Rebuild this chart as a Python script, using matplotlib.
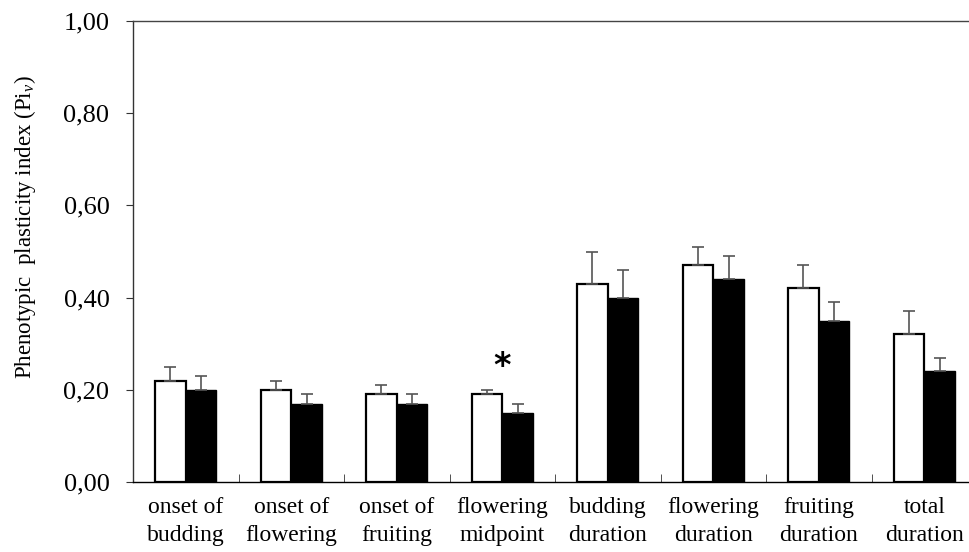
import matplotlib.pyplot as plt
import numpy as np

labels = ["onset of\nbudding", "onset of\nflowering", "onset of\nfruiting",
          "flowering\nmidpoint", "budding\nduration", "flowering\nduration",
          "fruiting\nduration", "total\nduration"]
white_vals = [0.22, 0.20, 0.19, 0.19, 0.43, 0.47, 0.42, 0.32]
white_err = [0.03, 0.02, 0.02, 0.01, 0.07, 0.04, 0.05, 0.05]
black_vals = [0.20, 0.17, 0.17, 0.15, 0.40, 0.44, 0.35, 0.24]
black_err = [0.03, 0.02, 0.02, 0.02, 0.06, 0.05, 0.04, 0.03]
yticks = [0.0, 0.2, 0.4, 0.6, 0.8, 1.0]
ytick_labels = ["0,00", "0,20", "0,40", "0,60", "0,80", "1,00"]

plt.rcParams['font.family'] = ['Liberation Serif', 'DejaVu Serif']
plt.rcParams['mathtext.fontset'] = 'custom'
plt.rcParams['mathtext.rm'] = 'Liberation Serif'
plt.rcParams['mathtext.it'] = 'Liberation Serif:italic'

fig = plt.figure(figsize=(9.69, 5.52), dpi=100)
ax = fig.add_axes([133/969, 70/552, 844/969, 461/552])

x = np.arange(len(labels))
w = 0.29
err_kw = dict(ecolor='#555555', elinewidth=1.2, capsize=4, capthick=1.2)
ax.bar(x - w/2, white_vals, w, color='white', edgecolor='black', linewidth=1.6,
       yerr=[np.zeros(len(x)), white_err], error_kw=err_kw, zorder=2)
ax.bar(x + w/2, black_vals, w, color='black', edgecolor='black', linewidth=1.0,
       yerr=[np.zeros(len(x)), black_err], error_kw=err_kw, zorder=2)

ax.text(3, 0.25, "*", ha='center', va='center', fontsize=24, fontweight='bold',
        family='DejaVu Sans')

ax.set_xlim(-0.5, 7.5)
ax.set_ylim(0, 1.0)
ax.set_yticks(yticks)
ax.set_yticklabels(ytick_labels, fontsize=19)
ax.set_xticks(x)
ax.set_xticklabels(labels, fontsize=17, linespacing=1.4)
ax.tick_params(axis='x', which='major', length=0, pad=11)
ax.set_xticks(np.arange(0.5, 7, 1), minor=True)
ax.tick_params(axis='x', which='minor', direction='in', length=6, color='#333333')
ax.tick_params(axis='y', direction='out', length=5, color='#333333', pad=12)

ax.set_ylabel("Phenotypic  plasticity index (Pi$_{v}$)", fontsize=16.5)
ax.yaxis.set_label_coords(-0.112, 0.553)

for s in ['top', 'left', 'bottom', 'right']:
    ax.spines[s].set_linewidth(1.0)
ax.spines['top'].set_color('#444444')
ax.spines['left'].set_color('#333333')
ax.spines['bottom'].set_color('black')

fig.savefig("out.png", dpi=100)
